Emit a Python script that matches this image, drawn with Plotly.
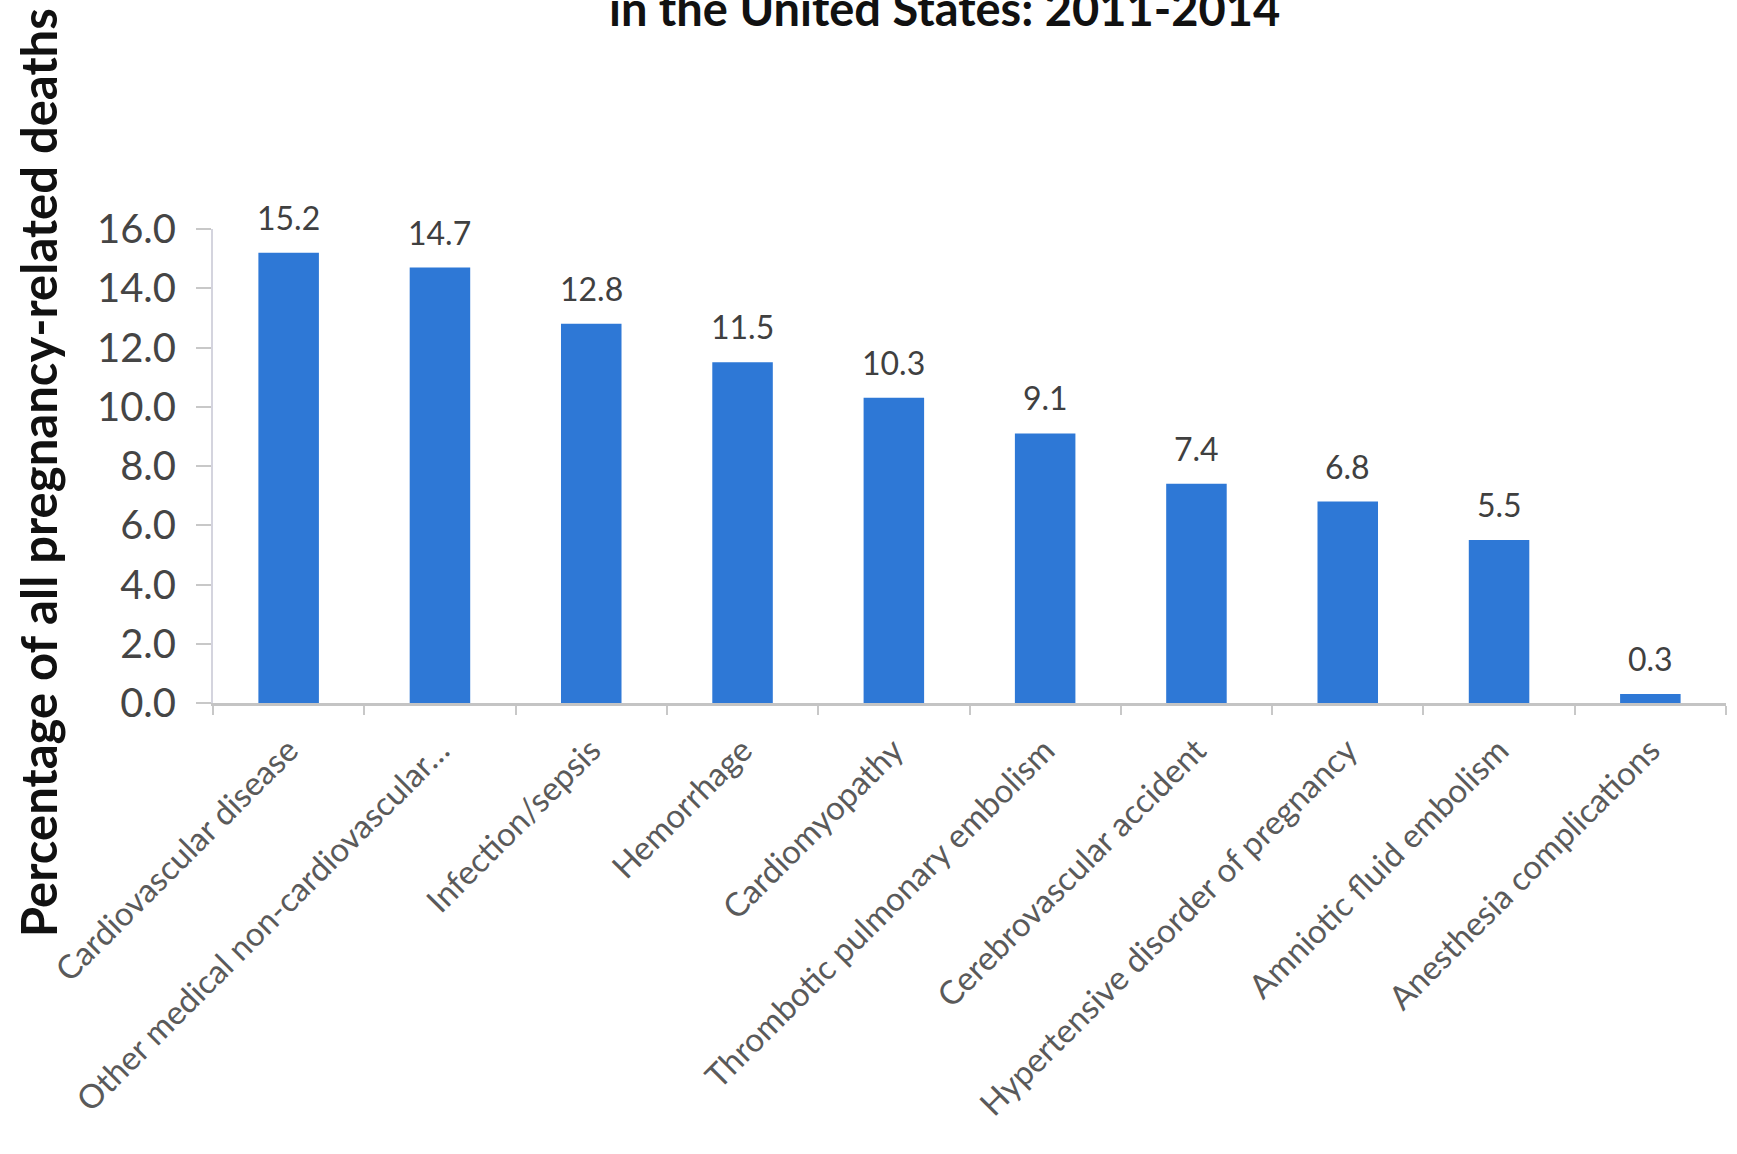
import plotly.graph_objects as go

categories = [
    "Cardiovascular disease",
    "Other medical non-cardiovascular…",
    "Infection/sepsis",
    "Hemorrhage",
    "Cardiomyopathy",
    "Thrombotic pulmonary embolism",
    "Cerebrovascular accident",
    "Hypertensive disorder of pregnancy",
    "Amniotic fluid embolism",
    "Anesthesia complications",
]
values = [15.2, 14.7, 12.8, 11.5, 10.3, 9.1, 7.4, 6.8, 5.5, 0.3]
y_ticks = [0, 2, 4, 6, 8, 10, 12, 14, 16]

title_text = "in the United States: 2011-2014"
y_title = "Percentage of all pregnancy-related deaths"

FONT = "Lato, 'DejaVu Sans', sans-serif"

fig = go.Figure()
fig.add_trace(go.Bar(
    x=categories,
    y=values,
    marker=dict(color="#2E78D6", line=dict(width=0)),
    width=0.4,
    hoverinfo="x+y",
))

for c, v in zip(categories, values):
    fig.add_annotation(
        x=c, y=v, xref="x", yref="y",
        text=f"{v:.1f}", showarrow=False,
        yanchor="bottom", yshift=14,
        font=dict(family=FONT, size=32, color="#404040"),
    )

fig.add_annotation(
    x=0.4838, y=1.402, xref="paper", yref="paper",
    text=f"<b>{title_text}</b>", showarrow=False,
    xanchor="center", yanchor="bottom",
    font=dict(family=FONT, size=47, color="#111111"),
)

fig.add_annotation(
    x=-0.116, y=0.486, xref="paper", yref="paper",
    text=f"<b>{y_title}</b>", showarrow=False,
    textangle=-90, xanchor="center", yanchor="middle",
    font=dict(family=FONT, size=49, color="#111111"),
)

fig.update_layout(
    width=1737, height=1154,
    margin=dict(l=213, r=11, t=229, b=451),
    paper_bgcolor="white", plot_bgcolor="white",
    showlegend=False,
    font=dict(family=FONT),
)

fig.update_yaxes(
    range=[0, 16],
    tickvals=y_ticks,
    tickformat=".1f",
    showgrid=False, zeroline=False,
    showline=True, linecolor="#d4d4de", linewidth=2,
    ticks="outside", ticklen=15, tickcolor="#c8c8c8", tickwidth=2,
    ticklabelstandoff=12,
    tickfont=dict(family=FONT, size=40, color="#454545"),
)

fig.update_xaxes(
    type="category",
    tickson="boundaries",
    ticks="outside", ticklen=9, tickcolor="#c8c8c8", tickwidth=2,
    showline=True, linecolor="#c4c4c4", linewidth=3,
    showgrid=False,
    tickangle=-45,
    ticklabelstandoff=12,
    tickfont=dict(family=FONT, size=33, color="#5a5a5a"),
)

fig.write_html("out.html")
